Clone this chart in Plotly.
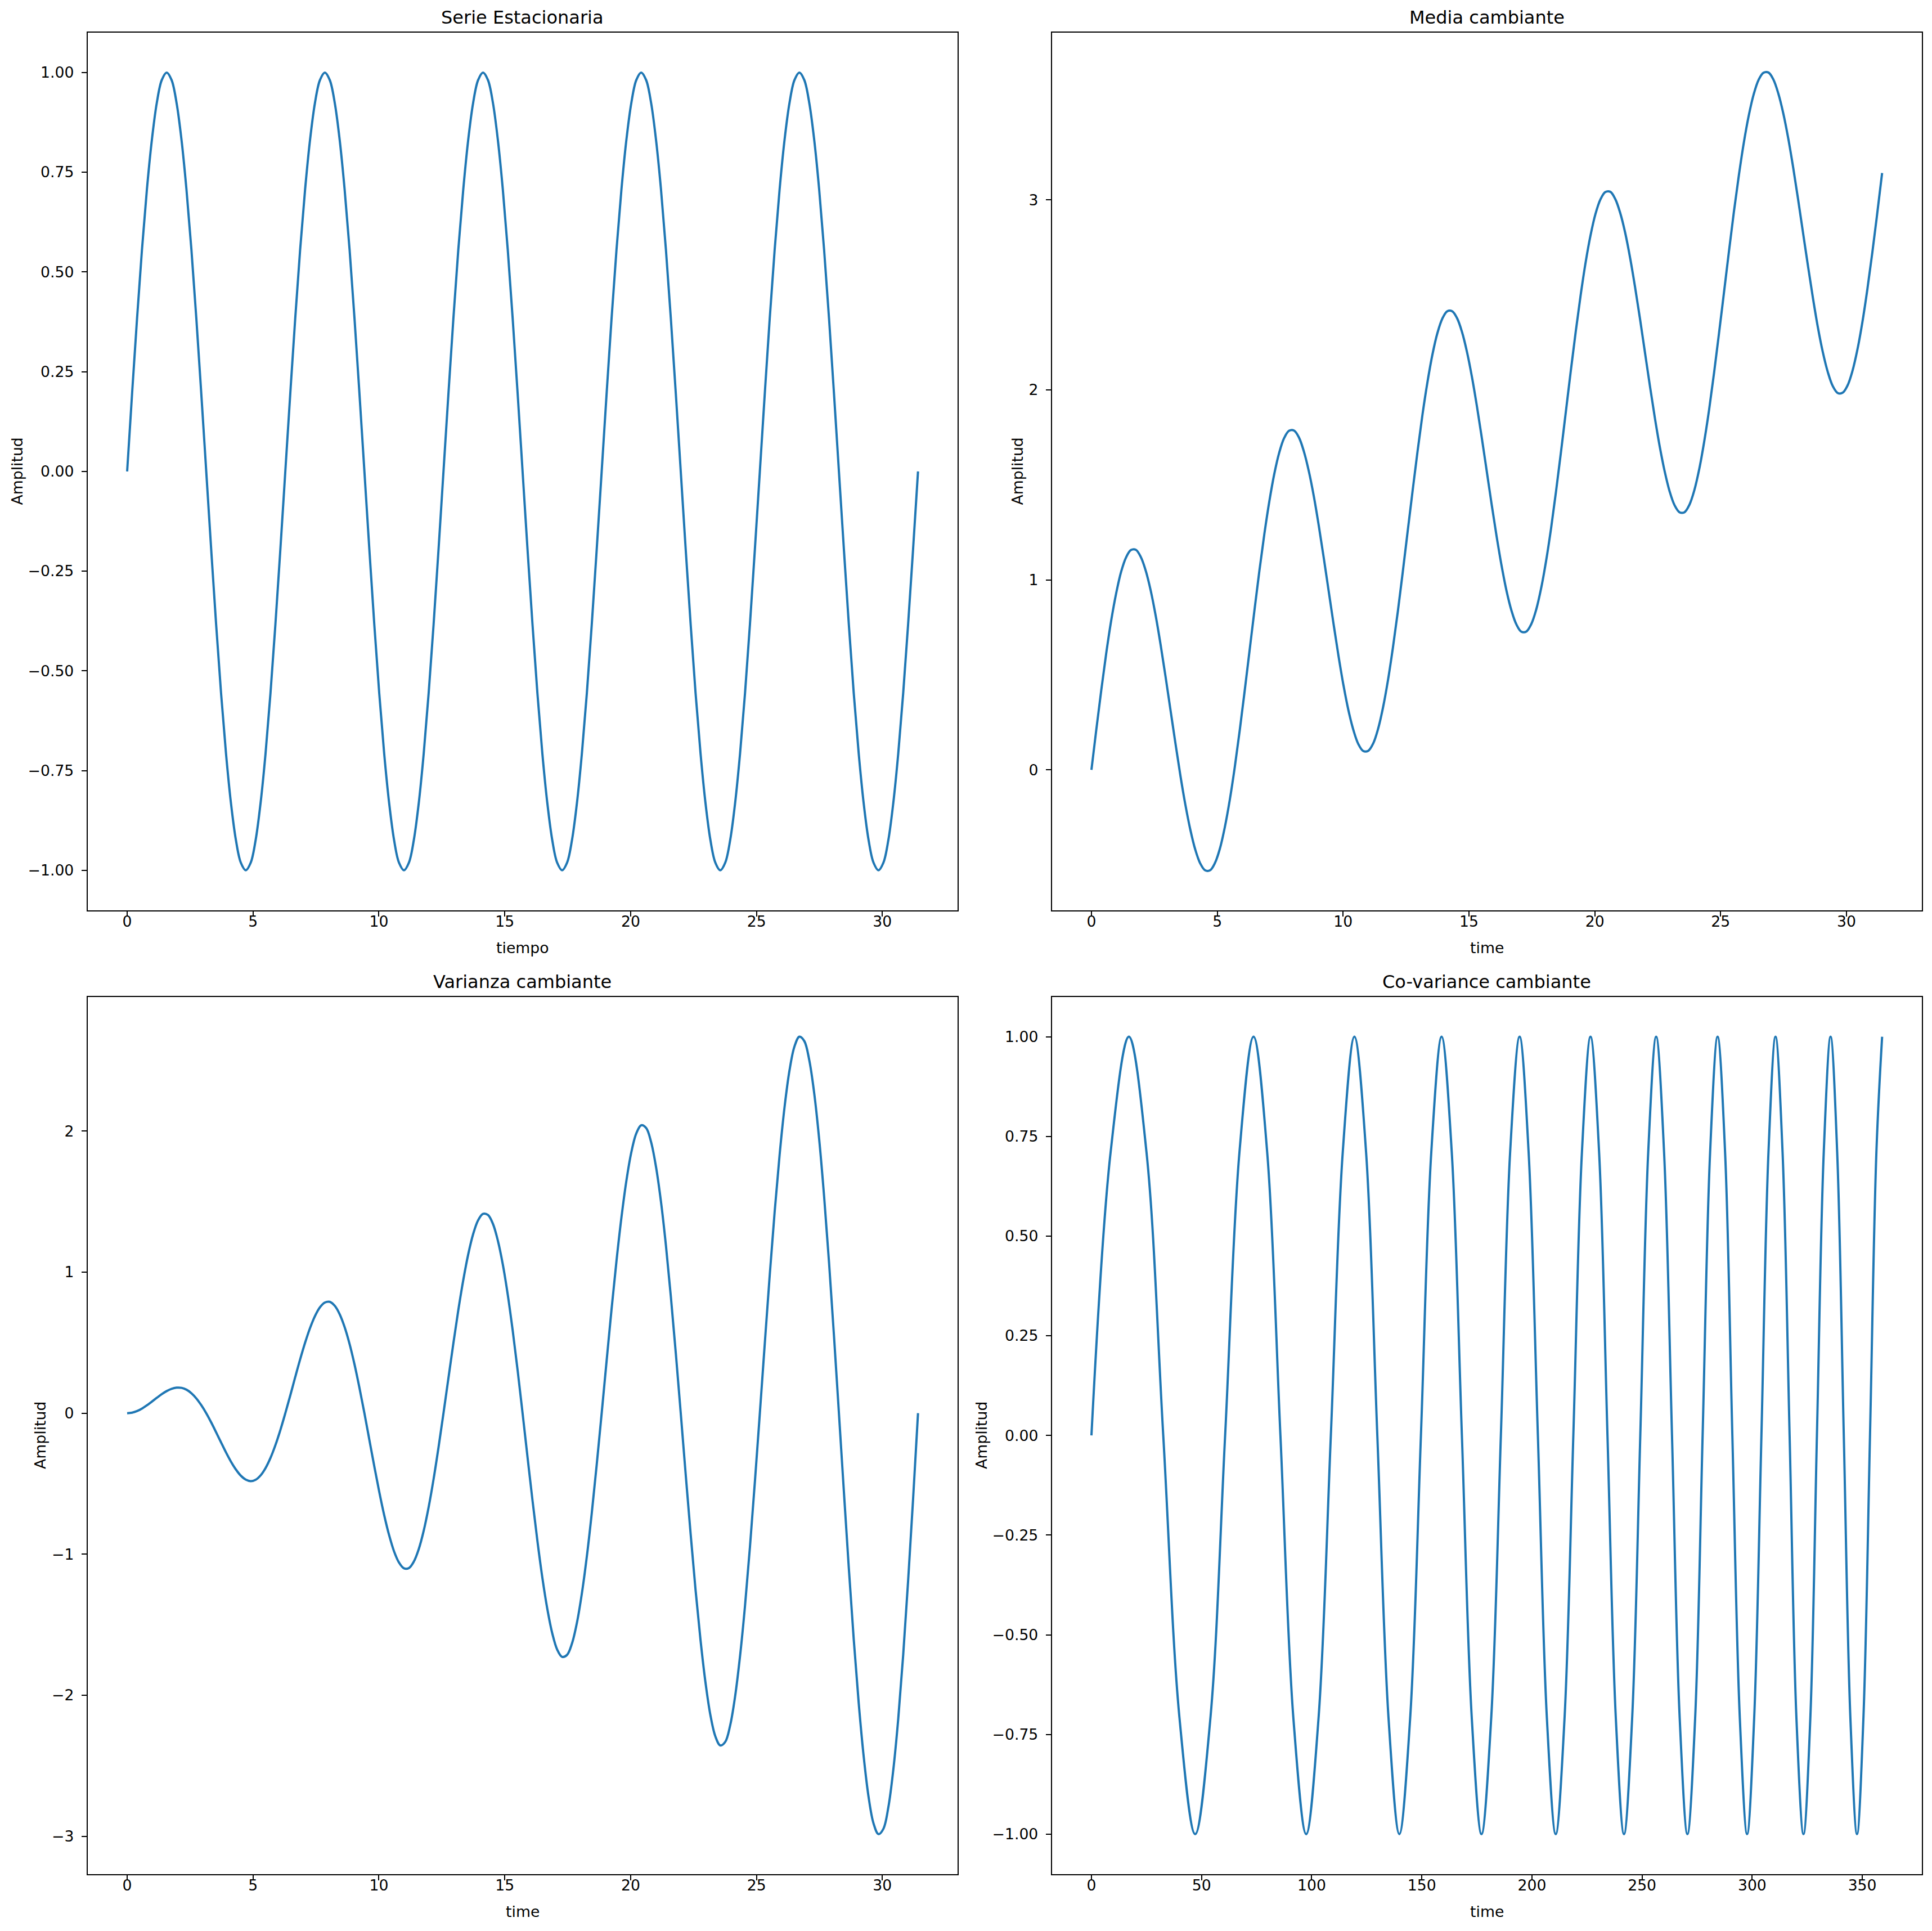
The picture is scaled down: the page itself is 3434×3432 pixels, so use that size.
import plotly.graph_objects as go

# ---------------- data ----------------
# time samples (0 .. 10*pi) used by the first three panels
t_vals = [0.000, 0.196, 0.393, 0.589, 0.785, 0.982, 1.178, 1.374, 1.571, 1.767, 1.963, 2.160, 2.356, 2.553, 2.749, 2.945,
          3.142, 3.338, 3.534, 3.731, 3.927, 4.123, 4.320, 4.516, 4.712, 4.909, 5.105, 5.301, 5.498, 5.694, 5.890, 6.087,
          6.283, 6.480, 6.676, 6.872, 7.069, 7.265, 7.461, 7.658, 7.854, 8.050, 8.247, 8.443, 8.639, 8.836, 9.032, 9.228,
          9.425, 9.621, 9.817, 10.014, 10.210, 10.407, 10.603, 10.799, 10.996, 11.192, 11.388, 11.585, 11.781, 11.977, 12.174, 12.370,
          12.566, 12.763, 12.959, 13.155, 13.352, 13.548, 13.744, 13.941, 14.137, 14.334, 14.530, 14.726, 14.923, 15.119, 15.315, 15.512,
          15.708, 15.904, 16.101, 16.297, 16.493, 16.690, 16.886, 17.082, 17.279, 17.475, 17.671, 17.868, 18.064, 18.261, 18.457, 18.653,
          18.850, 19.046, 19.242, 19.439, 19.635, 19.831, 20.028, 20.224, 20.420, 20.617, 20.813, 21.009, 21.206, 21.402, 21.598, 21.795,
          21.991, 22.187, 22.384, 22.580, 22.777, 22.973, 23.169, 23.366, 23.562, 23.758, 23.955, 24.151, 24.347, 24.544, 24.740, 24.936,
          25.133, 25.329, 25.525, 25.722, 25.918, 26.114, 26.311, 26.507, 26.704, 26.900, 27.096, 27.293, 27.489, 27.685, 27.882, 28.078,
          28.274, 28.471, 28.667, 28.863, 29.060, 29.256, 29.452, 29.649, 29.845, 30.041, 30.238, 30.434, 30.631, 30.827, 31.023, 31.220,
          31.416]

stationary = [0.000, 0.195, 0.383, 0.556, 0.707, 0.831, 0.924, 0.981, 1.000, 0.981, 0.924, 0.831, 0.707, 0.556, 0.383, 0.195,
              0.000, -0.195, -0.383, -0.556, -0.707, -0.831, -0.924, -0.981, -1.000, -0.981, -0.924, -0.831, -0.707, -0.556, -0.383, -0.195,
              0.000, 0.195, 0.383, 0.556, 0.707, 0.831, 0.924, 0.981, 1.000, 0.981, 0.924, 0.831, 0.707, 0.556, 0.383, 0.195,
              0.000, -0.195, -0.383, -0.556, -0.707, -0.831, -0.924, -0.981, -1.000, -0.981, -0.924, -0.831, -0.707, -0.556, -0.383, -0.195,
              0.000, 0.195, 0.383, 0.556, 0.707, 0.831, 0.924, 0.981, 1.000, 0.981, 0.924, 0.831, 0.707, 0.556, 0.383, 0.195,
              0.000, -0.195, -0.383, -0.556, -0.707, -0.831, -0.924, -0.981, -1.000, -0.981, -0.924, -0.831, -0.707, -0.556, -0.383, -0.195,
              0.000, 0.195, 0.383, 0.556, 0.707, 0.831, 0.924, 0.981, 1.000, 0.981, 0.924, 0.831, 0.707, 0.556, 0.383, 0.195,
              0.000, -0.195, -0.383, -0.556, -0.707, -0.831, -0.924, -0.981, -1.000, -0.981, -0.924, -0.831, -0.707, -0.556, -0.383, -0.195,
              0.000, 0.195, 0.383, 0.556, 0.707, 0.831, 0.924, 0.981, 1.000, 0.981, 0.924, 0.831, 0.707, 0.556, 0.383, 0.195,
              0.000, -0.195, -0.383, -0.556, -0.707, -0.831, -0.924, -0.981, -1.000, -0.981, -0.924, -0.831, -0.707, -0.556, -0.383, -0.195,
              0.000]

changing_mean = [0.000, 0.215, 0.422, 0.615, 0.786, 0.929, 1.042, 1.118, 1.157, 1.158, 1.120, 1.047, 0.943, 0.811, 0.658, 0.490,
                 0.314, 0.139, -0.030, -0.183, -0.314, -0.419, -0.492, -0.529, -0.529, -0.490, -0.414, -0.301, -0.157, 0.013, 0.206, 0.414,
                 0.628, 0.843, 1.051, 1.243, 1.414, 1.558, 1.670, 1.747, 1.785, 1.786, 1.749, 1.675, 1.571, 1.440, 1.286, 1.118,
                 0.942, 0.767, 0.599, 0.445, 0.314, 0.210, 0.136, 0.099, 0.100, 0.138, 0.215, 0.328, 0.471, 0.642, 0.834, 1.042,
                 1.257, 1.471, 1.679, 1.872, 2.042, 2.186, 2.298, 2.375, 2.414, 2.414, 2.377, 2.304, 2.199, 2.068, 1.915, 1.746,
                 1.571, 1.395, 1.227, 1.074, 0.942, 0.838, 0.765, 0.727, 0.728, 0.767, 0.843, 0.956, 1.099, 1.270, 1.463, 1.670,
                 1.885, 2.100, 2.307, 2.500, 2.671, 2.814, 2.927, 3.003, 3.042, 3.043, 3.005, 2.932, 2.828, 2.696, 2.543, 2.375,
                 2.199, 2.024, 1.855, 1.702, 1.571, 1.466, 1.393, 1.356, 1.356, 1.395, 1.472, 1.584, 1.728, 1.898, 2.091, 2.299,
                 2.513, 2.728, 2.936, 3.128, 3.299, 3.442, 3.555, 3.632, 3.670, 3.671, 3.634, 3.560, 3.456, 3.325, 3.171, 3.003,
                 2.827, 2.652, 2.484, 2.330, 2.199, 2.095, 2.021, 1.984, 1.985, 2.023, 2.100, 2.212, 2.356, 2.527, 2.719, 2.927,
                 3.142]

changing_var = [0.000, 0.004, 0.015, 0.033, 0.056, 0.082, 0.109, 0.135, 0.157, 0.173, 0.181, 0.180, 0.167, 0.142, 0.105, 0.057,
                0.000, -0.065, -0.135, -0.207, -0.278, -0.343, -0.399, -0.443, -0.471, -0.482, -0.472, -0.441, -0.389, -0.317, -0.226, -0.119,
                0.000, 0.126, 0.256, 0.382, 0.500, 0.604, 0.689, 0.751, 0.785, 0.790, 0.762, 0.702, 0.611, 0.491, 0.346, 0.180,
                0.000, -0.188, -0.376, -0.557, -0.722, -0.865, -0.980, -1.059, -1.100, -1.098, -1.052, -0.963, -0.833, -0.666, -0.466, -0.241,
                0.000, 0.249, 0.496, 0.731, 0.944, 1.126, 1.270, 1.368, 1.414, 1.406, 1.343, 1.224, 1.055, 0.841, 0.587, 0.303,
                0.000, -0.310, -0.617, -0.906, -1.166, -1.387, -1.560, -1.676, -1.728, -1.714, -1.633, -1.485, -1.277, -1.015, -0.707, -0.364,
                0.000, 0.371, 0.737, 1.081, 1.388, 1.648, 1.851, 1.984, 2.042, 2.023, 1.923, 1.746, 1.499, 1.190, 0.827, 0.425,
                0.000, -0.433, -0.857, -1.255, -1.610, -1.909, -2.141, -2.292, -2.356, -2.331, -2.213, -2.007, -1.721, -1.365, -0.948, -0.486,
                0.000, 0.494, 0.978, 1.430, 1.832, 2.170, 2.431, 2.600, 2.670, 2.639, 2.504, 2.268, 1.944, 1.539, 1.068, 0.548,
                0.000, -0.555, -1.098, -1.605, -2.055, -2.431, -2.721, -2.909, -2.985, -2.947, -2.794, -2.529, -2.166, -1.714, -1.188, -0.609,
                0.000]

cov_x = [0, 8.7, 17.0, 25.0, 32.6, 40.0, 47.1, 54.0, 60.7, 67.2,
         73.6, 79.8, 85.8, 91.7, 97.5, 103.1, 108.7, 114.1, 119.4, 124.7,
         129.8, 134.9, 139.8, 144.7, 149.6, 154.3, 159.0, 163.6, 168.2, 172.7,
         177.1, 181.5, 185.9, 190.1, 194.4, 198.5, 202.7, 206.8, 210.8, 214.8,
         218.8, 222.7, 226.6, 230.5, 234.3, 238.1, 241.8, 245.5, 249.2, 252.8,
         256.4, 260.0, 263.6, 267.1, 270.6, 274.1, 277.5, 280.9, 284.3, 287.7,
         291.0, 294.4, 297.7, 300.9, 304.2, 307.4, 310.6, 313.8, 317.0, 320.1,
         323.3, 326.4, 329.4, 332.5, 335.6, 338.6, 341.6, 344.6, 347.6, 350.5,
         353.5, 356.4, 359]

cov_y = [0.00, 0.71, 1.00, 0.71, 0.00, -0.71, -1.00, -0.71,
         0.00, 0.71, 1.00, 0.71, 0.00, -0.71, -1.00, -0.71,
         0.00, 0.71, 1.00, 0.71, 0.00, -0.71, -1.00, -0.71,
         0.00, 0.71, 1.00, 0.71, 0.00, -0.71, -1.00, -0.71,
         0.00, 0.71, 1.00, 0.71, 0.00, -0.71, -1.00, -0.71,
         0.00, 0.71, 1.00, 0.71, 0.00, -0.71, -1.00, -0.71,
         0.00, 0.71, 1.00, 0.71, 0.00, -0.71, -1.00, -0.71,
         0.00, 0.71, 1.00, 0.71, 0.00, -0.71, -1.00, -0.71,
         0.00, 0.71, 1.00, 0.71, 0.00, -0.71, -1.00, -0.71,
         0.00, 0.71, 1.00, 0.71, 0.00, -0.71, -1.00, -0.71,
         0.00, 0.71, 1.00]

titles = ["Serie Estacionaria", "Media cambiante", "Varianza cambiante", "Co-variance cambiante"]
x_labels = ["tiempo", "time", "time", "time"]
y_label = "Amplitud"

x_ticks_t = [0, 5, 10, 15, 20, 25, 30]
x_ticks_cov = [0, 50, 100, 150, 200, 250, 300, 350]
y_ticks_unit = [-1.00, -0.75, -0.50, -0.25, 0.00, 0.25, 0.50, 0.75, 1.00]
y_ticks_unit_text = ["\u22121.00", "\u22120.75", "\u22120.50", "\u22120.25", "0.00",
                     "0.25", "0.50", "0.75", "1.00"]
y_ticks_mean = [0, 1, 2, 3]
y_ticks_var = [-3, -2, -1, 0, 1, 2]


def minus(v):
    return str(v).replace("-", "\u2212")


# ---------------- layout geometry ----------------
W, H = 3434, 3432
OFF = 8  # page body margin that offsets the figure in the browser
col_dom = [[(155.7 - OFF) / W, (1702.0 - OFF) / W], [(1869.7 - OFF) / W, (3415.6 - OFF) / W]]
row_dom = [[1 - (1617.7 - OFF) / H, 1 - (58.0 - OFF) / H],
           [1 - (3330.7 - OFF) / H, 1 - (1771.7 - OFF) / H]]

LINE = "#1f77b4"
FONT = "DejaVu Sans"
TICK = 26.7
TITLE = 32.0


def padded(vals):
    lo, hi = min(vals), max(vals)
    span = hi - lo
    return [lo - 0.05 * span, hi + 0.05 * span]


panels = [
    dict(x=t_vals, y=stationary, xt=x_ticks_t, yt=y_ticks_unit, ytt=y_ticks_unit_text, r=0, c=0, ylab_off=125),
    dict(x=t_vals, y=changing_mean, xt=x_ticks_t, yt=y_ticks_mean,
         ytt=[minus(v) for v in y_ticks_mean], r=0, c=1, ylab_off=61),
    dict(x=t_vals, y=changing_var, xt=x_ticks_t, yt=y_ticks_var,
         ytt=[minus(v) for v in y_ticks_var], r=1, c=0, ylab_off=85),
    dict(x=cov_x, y=cov_y, xt=x_ticks_cov, yt=y_ticks_unit, ytt=y_ticks_unit_text, r=1, c=1, ylab_off=126),
]

fig = go.Figure()
annotations = []
layout = dict(
    width=W, height=H,
    margin=dict(l=0, r=0, t=0, b=0),
    paper_bgcolor="white", plot_bgcolor="white",
    showlegend=False,
    font=dict(family=FONT, color="black"),
)

for i, p in enumerate(panels):
    n = "" if i == 0 else str(i + 1)
    xa, ya = "x" + n, "y" + n
    fig.add_trace(go.Scatter(
        x=p["x"], y=p["y"], mode="lines",
        line=dict(color=LINE, width=4, shape="spline", smoothing=1.0),
        xaxis=xa, yaxis=ya, hoverinfo="skip",
    ))
    common = dict(
        showline=True, linecolor="black", linewidth=2, mirror=True,
        ticks="outside", ticklen=9, tickwidth=2, tickcolor="black",
        showgrid=False, zeroline=False,
        tickfont=dict(family=FONT, size=TICK, color="black"),
    )
    xd = col_dom[p["c"]]
    yd = row_dom[p["r"]]
    layout["xaxis" + n] = dict(common, domain=xd, anchor=ya, range=padded(p["x"]),
                               ticklabelstandoff=-14,
                               tickmode="array", tickvals=p["xt"], ticktext=[minus(v) for v in p["xt"]])
    layout["yaxis" + n] = dict(common, domain=yd, anchor=xa, range=padded(p["y"]),
                               ticklabelstandoff=8,
                               tickmode="array", tickvals=p["yt"], ticktext=p["ytt"])
    xc = (xd[0] + xd[1]) / 2
    yc = (yd[0] + yd[1]) / 2
    annotations.append(dict(text=titles[i], xref="paper", yref="paper", x=xc, y=yd[1],
                            yanchor="bottom", xanchor="center", yshift=6, showarrow=False,
                            font=dict(family=FONT, size=TITLE, color="black")))
    annotations.append(dict(text=x_labels[i], xref="paper", yref="paper", x=xc, y=yd[0],
                            yanchor="middle", xanchor="center", yshift=-67, showarrow=False,
                            font=dict(family=FONT, size=TICK, color="black")))
    annotations.append(dict(text=y_label, xref="paper", yref="paper", x=xd[0], y=yc,
                            yanchor="middle", xanchor="center", xshift=-p["ylab_off"], textangle=-90,
                            showarrow=False, font=dict(family=FONT, size=TICK, color="black")))

layout["annotations"] = annotations
fig.update_layout(**layout)
fig.write_html("out.html")
